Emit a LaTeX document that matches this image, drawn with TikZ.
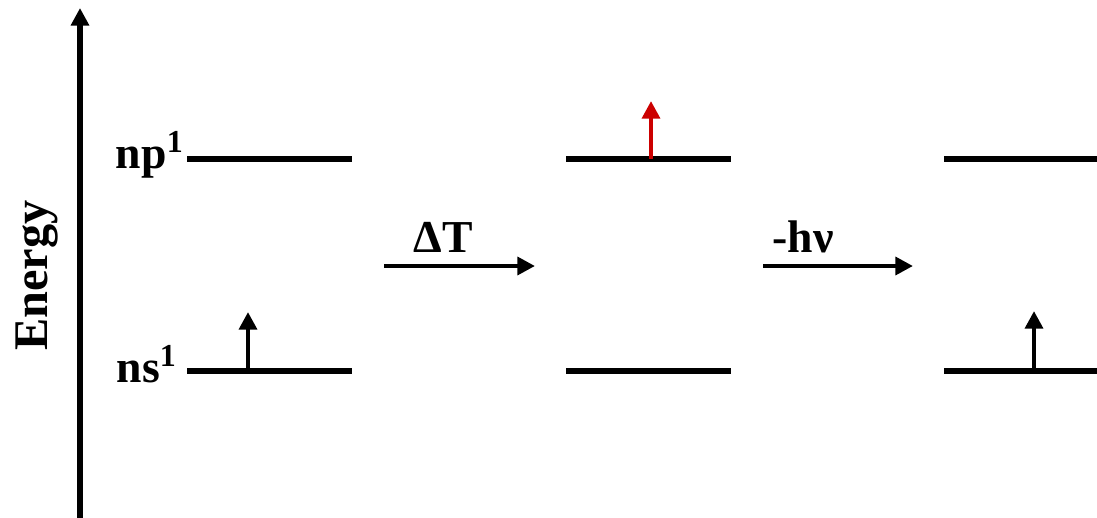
\documentclass[tikz,border=0pt]{standalone}
\usepackage{fontspec}
\setmainfont{Liberation Serif}
\usetikzlibrary{arrows.meta}
\definecolor{SpinClr}{rgb}{0.8,0,0}

\tikzset{
  level/.style={line width=3.4pt},
  spin/.style={line width=2.8pt,-{Triangle[length=10pt,width=10pt]}},
  lbl/.style={font=\bfseries\fontsize{26}{30}\selectfont,inner sep=0pt},
}

\begin{document}
\begin{tikzpicture}[x=0.02cm,y=-0.02cm]
\useasboundingbox (0,0) rectangle (1097,517);

% energy axis
\coordinate (E0) at (80,520);
\coordinate (E1) at (80,8);
\draw[spin,line width=3.2pt] (E0) -- (E1);
\node[lbl,font=\bfseries\fontsize{27.5}{30}\selectfont,rotate=90,anchor=base] (energy) at (47,275.5) {Energy};

% levels
\foreach \c/\x in {A/187,B/566,C/944}{
  \coordinate (p\c0) at (\x,159);
  \coordinate (p\c1) at (\x+165,159);
  \coordinate (s\c0) at (\x,371);
  \coordinate (s\c1) at (\x+165,371);
  \draw[level] (p\c0) -- (p\c1);
  \draw[level] (s\c0) -- (s\c1);
}
\node[lbl,anchor=base east] (np) at (184,168) {np\textsuperscript{1}};
\node[lbl,anchor=base east] (ns) at (177,382) {ns\textsuperscript{1}};

% electrons
\coordinate (eA) at (248,371);
\coordinate (eA1) at (248,312);
\coordinate (eB) at (651,159);
\coordinate (eB1) at (651,101);
\coordinate (eC) at (1034,371);
\coordinate (eC1) at (1034,311);
\draw[spin] (eA) -- (eA1);
\draw[spin,SpinClr] (eB) -- (eB1);
\draw[spin] (eC) -- (eC1);

% steps
\coordinate (T0) at (384,266);
\coordinate (T1) at (535,266);
\coordinate (H0) at (763,266);
\coordinate (H1) at (913,266);
\draw[spin] (T0) -- (T1);
\draw[spin] (H0) -- (H1);
\node[lbl,anchor=base] (heat) at (443,252) {ΔT};
\node[lbl,anchor=base] (light) at (803,252) {-hν};

\end{tikzpicture}
\end{document}
